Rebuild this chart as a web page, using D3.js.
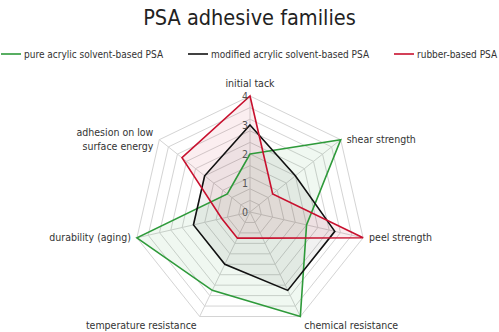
<!DOCTYPE html>
<html>
<head>
<meta charset="utf-8">
<script src="https://cdn.jsdelivr.net/npm/d3@7"></script>
<style>
  html, body { margin: 0; padding: 0; background: #fff; }
  svg { display: block; font-family: "DejaVu Sans Condensed", "Liberation Sans Narrow", Roboto, sans-serif; }
</style>
</head>
<body>
<svg id="chart" width="499" height="332"></svg>
<script>
// Property axes, clockwise from the top
const axes = [
  "initial tack",
  "shear strength",
  "peel strength",
  "chemical resistance",
  "temperature resistance",
  "durability (aging)",
  "adhesion on low|surface energy"
];
// Ratings per adhesive family (0–4)
const seriesNames = [
  "pure acrylic solvent-based PSA",
  "modified acrylic solvent-based PSA",
  "rubber-based PSA"
];
const pureAcrylic     = [2, 4, 2, 4, 3, 4, 1];
const modifiedAcrylic = [3, 2, 3, 3, 2, 2, 2];
const rubberBased     = [4, 1, 4, 1, 1, 1, 3];
const seriesColors = ["#2e9a3a", "#111111", "#c8102e"];
const tickValues = [0, 1, 2, 3, 4];
const gridLevels = d3.range(1, 11).map(i => i * 0.4);

const values = [pureAcrylic, modifiedAcrylic, rubberBased];

const svg = d3.select("#chart");
const cx = 250, cy = 212;
const r = d3.scaleLinear().domain([0, 4]).range([0, 116]);
const angle = d3.scaleLinear().domain([0, axes.length]).range([0, 2 * Math.PI]);

function pt(i, v) {
  const a = angle(i);
  return [cx + Math.sin(a) * r(v), cy - Math.cos(a) * r(v)];
}

// Title
svg.append("text")
  .attr("x", 249.5).attr("y", 25)
  .attr("text-anchor", "middle")
  .attr("fill", "#222")
  .style("font-size", "21.5px")
  .text("PSA adhesive families");

// Legend, spread across the top
const legend = svg.append("g");
const items = legend.selectAll("g").data(seriesNames).join("g");
items.append("line")
  .attr("x1", 0).attr("x2", 20).attr("y1", 0).attr("y2", 0)
  .attr("stroke", (d, i) => seriesColors[i]).attr("stroke-width", 1.6);
items.append("text")
  .attr("x", 23).attr("y", 0).attr("dy", "0.35em")
  .attr("fill", "#333")
  .style("font-size", "10px")
  .text(d => d);
let widths = [];
items.each(function () { widths.push(this.getBBox().width); });
const gap = Math.max(8, (497 - d3.sum(widths)) / (widths.length - 1));
const total = d3.sum(widths) + gap * (widths.length - 1);
let x0 = 249.5 - total / 2;
items.attr("transform", (d, i) => {
  const t = `translate(${x0},54)`;
  x0 += widths[i] + gap;
  return t;
});

// Grid rings
const g = svg.append("g");
const ringLine = d3.line();
g.selectAll("path.ring").data(gridLevels).join("path")
  .attr("class", "ring")
  .attr("d", lv => ringLine(axes.map((a, i) => pt(i, lv))) + "Z")
  .attr("fill", "none").attr("stroke", "#d4d4d4").attr("stroke-width", 1);

// Spokes
g.selectAll("line.spoke").data(axes).join("line")
  .attr("class", "spoke")
  .attr("x1", cx).attr("y1", cy)
  .attr("x2", (d, i) => pt(i, 4)[0]).attr("y2", (d, i) => pt(i, 4)[1])
  .attr("stroke", "#d4d4d4").attr("stroke-width", 1);

// Series areas
const areaG = svg.append("g");
values.forEach((vals, s) => {
  const pts = vals.map((v, i) => pt(i, v));
  areaG.append("path")
    .attr("d", ringLine(pts) + "Z")
    .attr("fill", seriesColors[s])
    .attr("fill-opacity", s === 1 ? 0.06 : 0.07)
    .attr("stroke", "none");
});
values.forEach((vals, s) => {
  const pts = vals.map((v, i) => pt(i, v));
  areaG.append("path")
    .attr("d", ringLine(pts) + "Z")
    .attr("fill", "none")
    .attr("stroke", seriesColors[s])
    .attr("stroke-width", 1.6)
    .attr("stroke-linejoin", "miter");
});

// Tick labels along the top axis
svg.append("g").selectAll("text").data(tickValues).join("text")
  .attr("x", cx - 2)
  .attr("y", d => cy - r(d))
  .attr("dy", "0.35em")
  .attr("text-anchor", "end")
  .attr("fill", "#555")
  .style("font-size", "10.5px")
  .text(d => d);

// Axis labels
const labelG = svg.append("g");
axes.forEach((name, i) => {
  const a = angle(i);
  const [px, py] = pt(i, 4);
  const s = Math.sin(a), c = Math.cos(a);
  let anchor = "middle", x = px, y = py;
  if (Math.abs(s) < 0.01) { y = py - 13; }
  else if (s > 0) { anchor = "start"; x = px + 6; }
  else { anchor = "end"; x = px - 6; }
  if (c < -0.5) { y = py + 8.5; x = s > 0 ? px + 4 : px - 3; }
  const lines = name.split("|");
  const t = labelG.append("text")
    .attr("text-anchor", anchor)
    .attr("fill", "#333")
    .style("font-size", "10.5px");
  const lh = 14;
  const startY = y - (lines.length - 1) * lh / 2;
  lines.forEach((ln, k) => {
    t.append("tspan").attr("x", x).attr("y", startY + k * lh).attr("dy", "0.35em").text(ln);
  });
});
</script>
</body>
</html>
